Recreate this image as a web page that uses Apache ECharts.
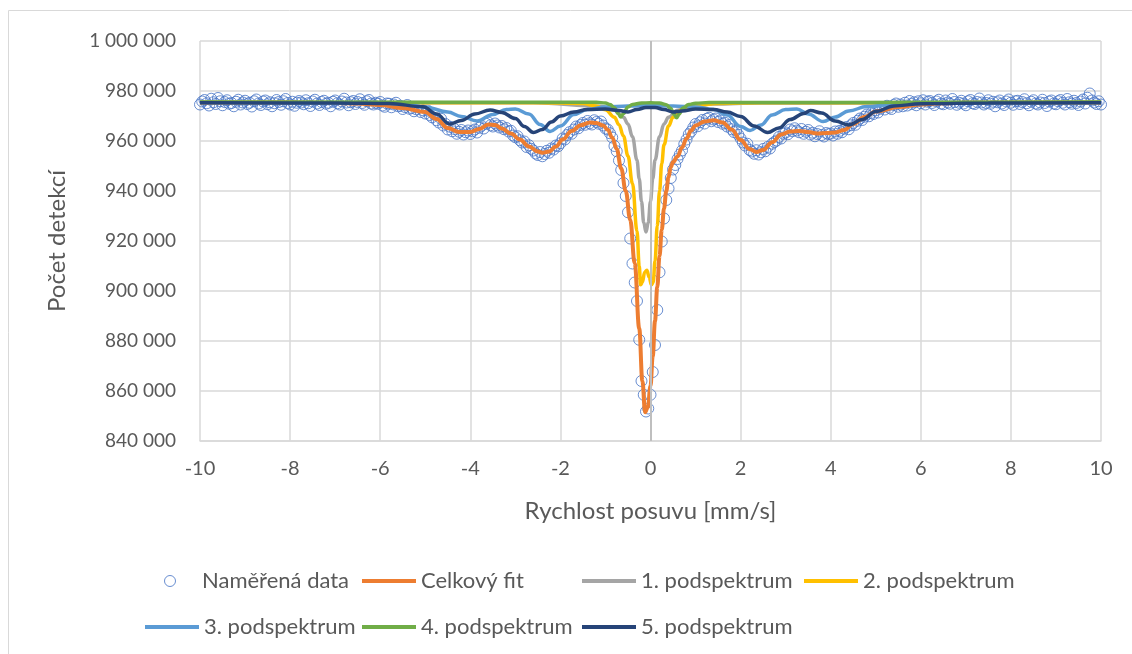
<!DOCTYPE html>
<html>
<head>
    <meta charset="utf-8">
    <title>Mössbauerovo spektrum</title>
    <script src="https://cdn.jsdelivr.net/npm/echarts@6/dist/echarts.min.js"></script>
    <style>
        html, body { margin: 0; padding: 0; background: #fff; }
        #spektrum { width: 1132px; height: 654px; }
    </style>
</head>
<body>
<div id="spektrum"></div>
<script type="text/javascript">
    // ----- data (pocty v tisicich) -----
    // namerena data: kanaly od -10 mm/s s krokem 0.05 mm/s
    var vStart = -10, vStep = 0.05;
    var namerene = [
        974.6, 975.8, 976.4, 975.1, 974.2, 976.9, 975.5, 974.8, 977.2, 975.9, 974.3, 975.6, 976.3, 974.9, 975.2, 973.9, 975.7, 976.5, 974.6, 975.4,
        976.1, 974.8, 975.3, 973.8, 975.9, 976.6, 975.0, 974.4, 975.8, 976.2, 974.7, 975.5, 973.9, 975.1, 976.4, 975.6, 974.5, 975.9, 976.8, 975.2,
        974.6, 975.7, 974.1, 975.3, 976.0, 975.4, 974.7, 976.3, 975.1, 974.0, 975.8, 976.5, 975.0, 974.4, 975.6, 976.1, 974.9, 975.3, 973.9, 975.7,
        976.2, 975.1, 974.6, 975.8, 976.9, 975.4, 974.3, 975.5, 976.0, 974.8, 975.6, 976.7, 975.2, 974.5, 975.9, 976.4, 975.0, 974.6, 975.3, 974.9,
        975.6, 974.2, 973.7, 975.0, 974.9, 973.5, 974.6, 975.3, 973.9, 974.1, 972.8, 973.6, 974.4, 972.9, 973.2, 971.9, 972.7, 973.4, 971.6, 972.3,
        971.0, 972.2, 970.4, 969.5, 970.6, 968.3, 967.4, 968.9, 966.2, 966.8, 964.6, 965.7, 963.9, 964.8, 962.9, 963.7, 964.4, 962.6, 963.5, 964.2,
        962.8, 963.9, 964.6, 963.4, 965.3, 966.1, 965.0, 966.9, 967.4, 966.3, 965.8, 967.0, 966.2, 965.4, 966.0, 964.7, 965.2, 963.8, 964.1, 962.2,
        961.5, 961.9, 960.3, 959.4, 959.8, 957.6, 958.3, 956.9, 956.2, 955.0, 954.4, 955.6, 953.9, 954.8, 956.1, 955.3, 957.0, 956.6, 958.2, 957.9,
        959.1, 961.0, 960.6, 962.4, 963.5, 962.9, 964.6, 965.8, 965.1, 966.4, 967.2, 966.5, 968.0, 967.1, 966.6, 968.3, 967.6, 966.9, 967.8, 966.2,
        965.0, 964.6, 963.1, 961.4, 958.0, 955.9, 952.2, 948.4, 943.2, 938.0, 931.5, 921.0, 911.0, 903.4, 896.0, 880.5, 864.0, 858.5, 851.8, 853.0,
        858.5, 867.6, 878.4, 892.4, 907.5, 919.8, 929.0, 936.4, 941.0, 945.2, 948.6, 950.4, 952.8, 954.6, 956.2, 958.8, 960.6, 962.7, 963.8, 965.4,
        966.8, 965.9, 967.5, 968.4, 967.0, 968.9, 969.3, 967.9, 968.6, 969.0, 967.6, 968.2, 966.9, 967.3, 965.8, 966.4, 964.7, 963.6, 964.2, 962.5,
        961.0, 959.4, 958.2, 958.9, 956.4, 955.8, 954.9, 956.3, 954.6, 955.5, 956.8, 955.9, 957.6, 957.0, 958.9, 959.6, 960.2, 961.6, 961.0, 962.9,
        963.4, 962.7, 964.6, 963.9, 965.1, 964.2, 963.5, 964.8, 962.9, 963.7, 964.4, 962.6, 963.3, 961.9, 962.8, 963.9, 962.4, 961.8, 963.2, 962.7,
        963.0, 962.2, 963.8, 962.9, 964.1, 963.5, 964.9, 965.6, 964.7, 966.3, 967.2, 966.5, 968.1, 969.0, 968.4, 969.7, 970.6, 969.9, 971.2, 970.8,
        972.3, 971.4, 972.9, 973.5, 972.6, 974.1, 973.3, 972.8, 974.4, 975.0, 973.7, 974.6, 973.9, 975.3, 974.2, 976.0, 974.8, 975.5, 974.3, 975.9,
        975.1, 976.3, 974.6, 975.7, 976.0, 975.2, 974.4, 975.8, 976.5, 975.0, 974.7, 976.2, 975.4, 974.9, 976.8, 975.6, 974.5, 975.3, 976.1, 975.0,
        974.3, 975.9, 976.4, 975.1, 974.8, 975.6, 977.0, 975.4, 974.6, 975.2, 976.3, 974.9, 975.7, 973.9, 975.5, 976.2, 975.0, 974.4, 975.8, 976.6,
        975.3, 974.5, 975.9, 976.1, 974.8, 975.6, 976.7, 975.1, 974.3, 975.7, 976.3, 975.0, 974.6, 975.4, 976.5, 975.2, 974.0, 975.8, 976.2, 975.0,
        974.7, 975.9, 976.4, 975.3, 974.6, 976.8, 975.5, 974.9, 976.1, 975.2, 974.4, 975.8, 976.6, 975.0, 977.3, 979.0, 976.2, 975.4, 974.8, 975.9,
        974.6
    ];

    // celkovy fit [rychlost, pocet]
    var celkovyFit = [
        [-10, 975.4], [-8, 975.4], [-7, 975.2], [-6.5, 975.0], [-6, 974.4], [-5.5, 973.2], [-5, 971.6], [-4.75, 968.8],
        [-4.5, 965.2], [-4.25, 963.6], [-4, 963.6], [-3.8, 964.8], [-3.6, 966.6], [-3.45, 966.4], [-3.3, 965.0], [-3.1, 963.0],
        [-2.9, 960.6], [-2.7, 957.8], [-2.5, 955.8], [-2.4, 955.3], [-2.25, 955.8], [-2.1, 957.8], [-1.95, 960.6], [-1.75, 964.0],
        [-1.55, 966.3], [-1.35, 967.4], [-1.2, 967.2], [-1.05, 966.2], [-0.95, 964.5], [-0.85, 961.4], [-0.75, 956.8], [-0.65, 949.0],
        [-0.55, 940.0], [-0.45, 928.5], [-0.35, 911.0], [-0.25, 885.0], [-0.18, 864.0], [-0.12, 851.5], [-0.06, 853.5], [0, 862.0],
        [0.05, 874.0], [0.1, 888.0], [0.15, 901.5], [0.2, 914.0], [0.25, 924.5], [0.3, 933.0], [0.35, 940.0], [0.4, 945.5],
        [0.45, 949.5], [0.5, 951.6], [0.6, 953.8], [0.7, 957.4], [0.8, 961.0], [0.9, 964.2], [1, 966.2], [1.2, 967.8],
        [1.4, 968.3], [1.6, 967.4], [1.8, 964.6], [2, 960.4], [2.2, 956.8], [2.35, 955.6], [2.5, 956.4], [2.7, 959.5],
        [2.9, 962.6], [3.1, 963.8], [3.3, 964.0], [3.5, 963.6], [3.7, 963.0], [3.9, 963.2], [4.1, 963.4], [4.3, 964.4],
        [4.5, 966.8], [4.75, 969.6], [5, 971.8], [5.5, 973.6], [6, 974.6], [6.5, 975.1], [7, 975.3], [10, 975.4]
    ];
    // 1. podspektrum - singlet
    var podspektrum1 = [
        [-10, 975.4], [-2.6, 975.3], [-1.1, 973.9], [-0.8, 972.3], [-0.6, 969.5], [-0.5, 966.8], [-0.4, 961.7], [-0.3, 952.3],
        [-0.25, 944.9], [-0.2, 935.8], [-0.15, 927.4], [-0.1, 923.6], [-0.05, 927.4], [0, 935.8], [0.05, 944.9], [0.1, 952.3],
        [0.2, 961.7], [0.3, 966.8], [0.4, 969.5], [0.6, 972.3], [0.9, 973.9], [1.4, 974.8], [2.4, 975.2], [10, 975.4]
    ];
    // 2. podspektrum - dublet
    var podspektrum2 = [
        [-10, 975.4], [-2.5, 975.3], [-1.5, 975.0], [-1.2, 974.0], [-1, 972.5], [-0.8, 969.5], [-0.7, 966.5], [-0.6, 962.0],
        [-0.5, 954.0], [-0.4, 943.0], [-0.3, 924.0], [-0.25, 910.0], [-0.22, 902.5], [-0.18, 903.5], [-0.13, 907.5], [-0.08, 908.3],
        [-0.03, 905.5], [0.02, 902.5], [0.06, 903.5], [0.1, 912.0], [0.15, 926.0], [0.2, 940.0], [0.25, 951.0], [0.3, 958.5],
        [0.4, 966.0], [0.5, 969.5], [0.7, 972.6], [1, 974.2], [1.5, 975.0], [2.5, 975.3], [10, 975.4]
    ];
    // 3. podspektrum - sextet
    var podspektrum3 = [
        [-10, 975.4], [-6, 975.2], [-5.5, 974.8], [-5, 973.6], [-4.5, 971.6], [-4.2, 969.8], [-3.85, 968.0], [-3.5, 970.6],
        [-3.2, 972.6], [-3, 972.8], [-2.7, 970.8], [-2.45, 966.6], [-2.23, 963.8], [-2, 966.0], [-1.7, 970.6], [-1.4, 972.6],
        [-1, 973.6], [-0.5, 974.0], [0, 974.2], [0.5, 974.0], [1, 973.6], [1.4, 972.6], [1.7, 970.4], [2, 965.8],
        [2.21, 964.2], [2.45, 966.4], [2.7, 970.4], [3, 972.6], [3.25, 972.8], [3.5, 970.8], [3.83, 967.8], [4.1, 969.6],
        [4.4, 972.0], [4.8, 973.8], [5.5, 974.8], [6.5, 975.2], [10, 975.4]
    ];
    // 4. podspektrum - dublet
    var podspektrum4 = [
        [-10, 975.6], [-1.2, 975.5], [-1, 975.2], [-0.9, 974.6], [-0.8, 973.3], [-0.72, 971.0], [-0.66, 969.6], [-0.6, 971.0],
        [-0.5, 973.6], [-0.4, 974.6], [-0.2, 975.2], [0, 975.3], [0.2, 975.2], [0.35, 974.5], [0.45, 973.0], [0.52, 970.8],
        [0.58, 969.3], [0.64, 970.8], [0.72, 973.2], [0.85, 974.6], [1, 975.1], [1.3, 975.4], [10, 975.6]
    ];
    // 5. podspektrum - sextet
    var podspektrum5 = [
        [-10, 975.3], [-7, 975.2], [-5.8, 975.0], [-5.05, 973.7], [-4.75, 970.8], [-4.46, 966.8], [-4.2, 968.2], [-3.9, 970.8],
        [-3.56, 972.4], [-3.3, 971.4], [-3, 969.0], [-2.8, 965.8], [-2.6, 963.4], [-2.4, 964.6], [-2.2, 967.6], [-2, 970.0],
        [-1.7, 971.6], [-1.4, 972.6], [-1, 972.8], [-0.7, 972.2], [-0.5, 971.6], [-0.3, 972.6], [-0.1, 973.4], [0.1, 973.4],
        [0.3, 972.6], [0.5, 971.6], [0.7, 972.0], [1, 972.8], [1.4, 972.6], [1.7, 971.6], [2, 969.8], [2.3, 966.0],
        [2.6, 963.4], [2.85, 965.2], [3.1, 968.6], [3.4, 971.0], [3.55, 972.2], [3.8, 971.2], [4.1, 968.0], [4.4, 966.4],
        [4.7, 968.6], [5, 971.8], [5.4, 974.0], [6, 974.9], [7.5, 975.2], [10, 975.3]
    ];

    var nazvy = ['Naměřená data', 'Celkový fit', '1. podspektrum', '2. podspektrum',
        '3. podspektrum', '4. podspektrum', '5. podspektrum'];
    var barvy = ['#4472C4', '#ED7D31', '#A5A5A5', '#FFC000', '#5B9BD5', '#70AD47', '#264478'];

    // ----- prevod na body grafu -----
    function naPocty(rada) {
        return rada.map(function (b) { return [b[0], b[1] * 1000]; });
    }
    var bodyData = namerene.map(function (v, i) {
        return [+(vStart + i * vStep).toFixed(2), v * 1000];
    });
    var krivky = [celkovyFit, podspektrum1, podspektrum2, podspektrum3, podspektrum4, podspektrum5];

    function mezery(v) {
        return String(Math.round(v)).replace(/\B(?=(\d{3})+(?!\d))/g, ' ');
    }

    var pismo = 'Lato';
    var sedaText = '#595959';

    var series = [{
        name: nazvy[0],
        type: 'scatter',
        z: 1,
        data: bodyData,
        symbol: 'circle',
        symbolSize: 11,
        itemStyle: { color: 'rgba(255,255,255,0)', borderColor: barvy[0], borderWidth: 1 },
        markLine: {
            silent: true,
            symbol: 'none',
            label: { show: false },
            lineStyle: { color: '#BFBFBF', width: 2, type: 'solid' },
            data: [{ xAxis: 0 }]
        }
    }];
    krivky.forEach(function (k, i) {
        series.push({
            name: nazvy[i + 1],
            type: 'line',
            z: 2 + i,
            data: naPocty(k),
            smooth: 0.4,
            smoothMonotone: 'x',
            showSymbol: false,
            symbol: 'none',
            color: barvy[i + 1],
            lineStyle: { color: barvy[i + 1], width: i === 0 ? 4 : 3.5 }
        });
    });

    // legenda v mrizce: 4 sloupce, 2 radky
    var sloupce = [164, 362, 582, 804, 145];
    var radky = [570, 616];
    var pozice = [[0, 0], [1, 0], [2, 0], [3, 0], [4, 1], [1, 1], [2, 1]];
    var carovaIkona = 'path://M0,0 L54,0 L54,4 L0,4 Z';
    var legendy = nazvy.map(function (n, i) {
        var polozka = i === 0
            ? { name: n, icon: 'circle', itemStyle: { color: 'rgba(255,255,255,0)', borderColor: barvy[0], borderWidth: 1 } }
            : { name: n, icon: carovaIkona, itemStyle: { color: barvy[i] } };
        return {
            left: sloupce[pozice[i][0]],
            top: radky[pozice[i][1]],
            padding: 0,
            itemWidth: 54,
            itemHeight: 11,
            itemGap: 4,
            selectedMode: false,
            textStyle: { fontFamily: pismo, fontSize: 22, color: sedaText },
            data: [polozka]
        };
    });

    var chart = echarts.init(document.getElementById('spektrum'));
    chart.setOption({
        animation: false,
        textStyle: { fontFamily: pismo },
        graphic: [{
            type: 'rect',
            shape: { x: 8.5, y: 10.5, width: 1140, height: 660 },
            style: { fill: 'none', stroke: '#D9D9D9', lineWidth: 1 },
            silent: true
        }],
        grid: { left: 200, top: 41, width: 901, height: 400 },
        legend: legendy,
        xAxis: {
            type: 'value',
            min: -10,
            max: 10,
            interval: 2,
            name: 'Rychlost posuvu [mm/s]',
            nameLocation: 'middle',
            nameGap: 58,
            nameTextStyle: { fontFamily: pismo, fontSize: 24, color: sedaText },
            axisLine: { onZero: false, lineStyle: { color: '#D9D9D9', width: 1.5 } },
            axisTick: { show: false },
            axisLabel: { margin: 18, fontFamily: pismo, fontSize: 20, color: sedaText },
            splitLine: { show: true, lineStyle: { color: '#D9D9D9', width: 1.5 } }
        },
        yAxis: {
            type: 'value',
            min: 840000,
            max: 1000000,
            interval: 20000,
            name: 'Počet detekcí',
            nameLocation: 'middle',
            nameGap: 131,
            nameTextStyle: { fontFamily: pismo, fontSize: 24, color: sedaText },
            axisLine: { show: false },
            axisTick: { show: false },
            axisLabel: { margin: 24, fontFamily: pismo, fontSize: 19, color: sedaText, formatter: mezery },
            splitLine: { show: true, lineStyle: { color: '#D9D9D9', width: 1.5 } }
        },
        series: series
    });
</script>
</body>
</html>
